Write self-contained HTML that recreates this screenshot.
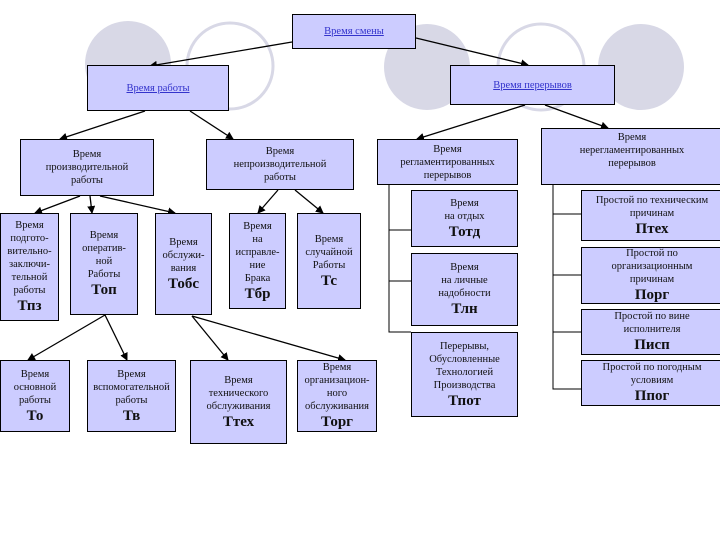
<!DOCTYPE html>
<html><head><meta charset="utf-8"><style>
body{margin:0;width:720px;height:540px;background:#fff;position:relative;overflow:hidden;font-family:"Liberation Serif","DejaVu Serif",serif;}
.b{position:absolute;background:#ccccff;border:1px solid #000;box-sizing:border-box;display:flex;flex-direction:column;align-items:center;justify-content:center;text-align:center;font-size:10.5px;line-height:13px;color:#111;}
.b b{font-size:15px;line-height:18px;}
.l{color:#3333cc;text-decoration:underline;}
svg{position:absolute;left:0;top:0;}
</style></head><body>
<svg width="720" height="540">
<defs><marker id="a" markerWidth="8" markerHeight="8" refX="7" refY="4" orient="auto" markerUnits="userSpaceOnUse"><path d="M0,0 L8,4 L0,8 z" fill="#000"/></marker></defs>
<circle cx="128" cy="64" r="43" fill="#d8d8e6"/>
<circle cx="230" cy="66" r="43" fill="none" stroke="#d8d8e6" stroke-width="3"/>
<circle cx="427" cy="67" r="43" fill="#d8d8e6"/>
<circle cx="541" cy="67" r="43" fill="none" stroke="#d8d8e6" stroke-width="3"/>
<circle cx="641" cy="67" r="43" fill="#d8d8e6"/>
<g stroke="#000" stroke-width="1.3" marker-end="url(#a)">
<line x1="292" y1="42" x2="150" y2="66"/>
<line x1="416" y1="38" x2="528" y2="65"/>
<line x1="145" y1="111" x2="60" y2="139"/>
<line x1="190" y1="111" x2="233" y2="139"/>
<line x1="525" y1="105" x2="417" y2="139"/>
<line x1="545" y1="105" x2="608" y2="128"/>
<line x1="80" y1="196" x2="35" y2="213"/>
<line x1="90" y1="196" x2="92" y2="213"/>
<line x1="100" y1="196" x2="175" y2="213"/>
<line x1="278" y1="190" x2="258" y2="213"/>
<line x1="295" y1="190" x2="323" y2="213"/>
<line x1="105" y1="315" x2="28" y2="360"/>
<line x1="105" y1="315" x2="127" y2="360"/>
<line x1="192" y1="316" x2="228" y2="360"/>
<line x1="192" y1="316" x2="345" y2="360"/>
</g>
<g stroke="#000" stroke-width="1" fill="none">
<polyline points="389,185 389,332 411,332"/>
<line x1="389" y1="230" x2="411" y2="230"/>
<line x1="389" y1="281" x2="411" y2="281"/>
<polyline points="553,185 553,389 581,389"/>
<line x1="553" y1="214" x2="581" y2="214"/>
<line x1="553" y1="275" x2="581" y2="275"/>
<line x1="553" y1="332" x2="581" y2="332"/>
</g>
</svg>
<div class="b" style="left:292px;top:14px;width:124px;height:35px"><span class="l">Время смены</span></div>
<div class="b" style="left:87px;top:65px;width:142px;height:46px"><span class="l">Время работы</span></div>
<div class="b" style="left:450px;top:65px;width:165px;height:40px"><span class="l">Время перерывов</span></div>
<div class="b" style="left:20px;top:139px;width:134px;height:57px">Время<br>производительной<br>работы</div>
<div class="b" style="left:206px;top:139px;width:148px;height:51px">Время<br>непроизводительной<br>работы</div>
<div class="b" style="left:377px;top:139px;width:141px;height:46px">Время<br>регламентированных<br>перерывов</div>
<div class="b" style="left:541px;top:128px;width:182px;height:57px;justify-content:flex-start;padding-top:2px">Время<br>нерегламентированных<br>перерывов</div>
<div class="b" style="left:0;top:213px;width:59px;height:108px">Время<br>подгото-<br>вительно-<br>заключи-<br>тельной<br>работы<b>Тпз</b></div>
<div class="b" style="left:70px;top:213px;width:68px;height:102px">Время<br>оператив-<br>ной<br>Работы<b>Топ</b></div>
<div class="b" style="left:155px;top:213px;width:57px;height:102px">Время<br>обслужи-<br>вания<b>Тобс</b></div>
<div class="b" style="left:229px;top:213px;width:57px;height:96px">Время<br>на<br>исправле-<br>ние<br>Брака<b>Тбр</b></div>
<div class="b" style="left:297px;top:213px;width:64px;height:96px">Время<br>случайной<br>Работы<b>Тс</b></div>
<div class="b" style="left:0;top:360px;width:70px;height:72px">Время<br>основной<br>работы<b>То</b></div>
<div class="b" style="left:87px;top:360px;width:89px;height:72px">Время<br>вспомогательной<br>работы<b>Тв</b></div>
<div class="b" style="left:190px;top:360px;width:97px;height:84px">Время<br>технического<br>обслуживания<b>Ттех</b></div>
<div class="b" style="left:297px;top:360px;width:80px;height:72px">Время<br>организацион-<br>ного<br>обслуживания<b>Торг</b></div>
<div class="b" style="left:411px;top:190px;width:107px;height:57px">Время<br>на отдых<b>Тотд</b></div>
<div class="b" style="left:411px;top:253px;width:107px;height:73px">Время<br>на личные<br>надобности<b>Тлн</b></div>
<div class="b" style="left:411px;top:332px;width:107px;height:85px">Перерывы,<br>Обусловленные<br>Технологией<br>Производства<b>Тпот</b></div>
<div class="b" style="left:581px;top:190px;width:142px;height:51px">Простой по техническим<br>причинам<b>Птех</b></div>
<div class="b" style="left:581px;top:247px;width:142px;height:57px">Простой по<br>организационным<br>причинам<b>Порг</b></div>
<div class="b" style="left:581px;top:309px;width:142px;height:46px">Простой по вине<br>исполнителя<b>Писп</b></div>
<div class="b" style="left:581px;top:360px;width:142px;height:46px">Простой по погодным<br>условиям<b>Ппог</b></div>
</body></html>
